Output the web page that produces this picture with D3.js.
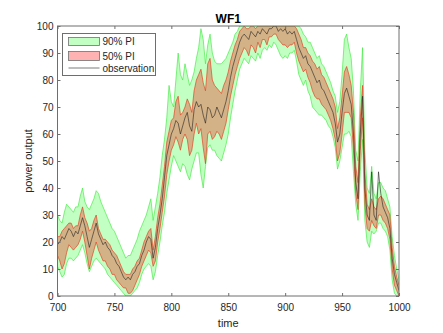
<!DOCTYPE html>
<html>
<head>
  <meta charset="UTF-8">
  <style>
    body { margin: 0; background: #fff; }
    svg { display: block; font-family: "Liberation Sans", Arial, sans-serif; }
  </style>
</head>
<body>
  <svg></svg>
<script src="https://d3js.org/d3.v7.min.js"></script>
<script>
let width = 443,
    height = 333;

// sampled every 2 time steps, 700..1000
let time = d3.range(700, 1001, 2);

let observation = [
  19,20,22,21,23,25,24,22,24,23,
  26,29,26,22,18,21,24,27,23,21,
  19,20,18,17,15,14,12,11,9,7,
  6,7,6,8,9,11,12,15,17,20,
  22,21,14,18,25,30,36,44,52,56,
  60,62,65,64,60,63,66,68,63,61,
  69,72,70,71,67,64,70,69,66,67,
  70,68,66,69,72,76,81,85,88,91,
  94,96,97,96,95,98,97,96,98,97,
  99,98,97,99,99,100,100,98,99,98,
  99,97,98,97,98,95,92,90,88,89,
  86,85,83,81,79,80,77,76,74,72,
  70,68,64,57,60,68,75,77,74,71,
  60,42,36,60,74,40,30,28,46,30,
  28,46,38,33,31,29,25,14,8,5,
  2];

let lower50 = [
  15,13,10,12,16,19,18,17,18,19,
  21,24,20,15,10,14,17,20,17,15,
  13,13,11,10,8,8,6,5,4,3,
  3,1,1,2,4,6,8,11,13,15,
  17,16,11,13,20,25,31,37,45,50,
  54,56,59,57,54,58,60,58,52,54,
  60,64,60,62,55,49,60,61,58,59,
  61,60,58,61,64,69,74,78,82,85,
  88,90,92,91,89,93,92,90,94,92,
  95,95,93,96,96,97,97,95,94,93,
  93,92,93,93,94,90,87,85,83,84,
  81,79,76,74,73,73,71,70,69,67,
  65,62,58,50,53,60,68,68,68,66,
  54,38,32,54,66,34,25,24,28,26,
  25,30,30,28,27,25,21,10,4,2,
  0];

let upper50 = [
  22,22,24,25,26,27,27,25,26,26,
  30,33,29,27,24,25,28,30,25,23,
  21,21,20,19,17,16,15,13,11,9,
  8,8,8,10,11,13,14,17,20,22,
  24,25,17,22,29,34,41,48,57,61,
  65,66,72,74,67,68,70,73,71,68,
  76,80,82,84,79,76,86,88,80,78,
  77,76,75,78,80,83,87,90,93,95,
  98,99,100,99,99,100,100,99,100,100,
  100,100,100,100,100,100,100,100,100,100,
  100,100,100,100,100,99,97,95,92,92,
  90,89,87,86,84,85,82,81,79,77,
  75,73,70,62,66,74,83,85,82,78,
  68,48,42,66,78,46,34,32,36,33,
  32,36,37,36,34,32,30,18,11,7,
  4];

let lower90 = [
  11,9,7,8,12,14,14,13,14,15,
  17,19,16,12,9,11,13,14,13,12,
  11,10,8,7,6,5,4,3,2,1,
  0,0,0,1,2,3,5,8,10,11,
  12,11,6,9,15,20,26,31,38,43,
  48,52,50,48,46,49,48,45,43,47,
  50,53,53,45,40,48,55,56,54,54,
  52,51,50,53,56,60,66,71,76,80,
  84,86,88,87,86,89,88,87,90,88,
  91,92,91,93,92,94,93,91,89,88,
  89,88,90,90,91,87,82,80,78,80,
  76,74,70,69,68,67,67,66,65,63,
  62,59,55,47,50,55,60,60,61,59,
  46,34,28,46,58,28,20,18,24,23,
  24,27,27,25,24,22,17,6,1,0,
  0];

let upper90 = [
  30,28,27,31,34,33,32,31,33,33,
  37,40,35,33,32,34,36,39,38,35,
  33,31,29,27,25,24,22,20,18,16,
  14,15,15,17,19,21,24,26,28,30,
  33,36,28,33,38,44,52,58,66,78,
  72,70,80,90,82,80,86,82,78,80,
  83,88,92,99,95,86,93,97,90,87,
  86,86,86,87,88,90,92,94,97,98,
  100,100,100,100,100,100,100,100,100,100,
  100,100,100,100,100,100,100,100,100,100,
  100,100,100,100,100,100,100,99,97,96,
  94,94,92,90,88,89,86,85,83,81,
  79,76,74,68,72,82,95,97,92,88,
  76,54,50,76,92,54,40,38,48,38,
  36,42,42,40,39,36,33,22,15,10,
  6];

let xTicks = [700, 750, 800, 850, 900, 950, 1000];
let yTicks = [0, 10, 20, 30, 40, 50, 60, 70, 80, 90, 100];

let data = time.map((t, i) => ({
  t: t,
  obs: observation[i],
  lo50: lower50[i], hi50: upper50[i],
  lo90: lower90[i], hi90: upper90[i]
}));

let svg = d3.select("svg")
  .attr("width", width)
  .attr("height", height);

let plotLeft = 57.5, plotRight = 399, plotTop = 26, plotBottom = 296;

let x = d3.scaleLinear().domain([700, 1000]).range([plotLeft, plotRight]);
let y = d3.scaleLinear().domain([0, 100]).range([plotBottom, plotTop]);

svg.append("rect")
  .attr("width", width).attr("height", height).attr("fill", "#fff");

svg.append("clipPath").attr("id", "plotclip")
  .append("rect")
  .attr("x", plotLeft).attr("y", plotTop)
  .attr("width", plotRight - plotLeft).attr("height", plotBottom - plotTop);

let plot = svg.append("g").attr("clip-path", "url(#plotclip)");

let area90 = d3.area().x(d => x(d.t)).y0(d => y(d.lo90)).y1(d => y(d.hi90));
let area50 = d3.area().x(d => x(d.t)).y0(d => y(d.lo50)).y1(d => y(d.hi50));

plot.append("path").datum(data)
  .attr("d", area90)
  .attr("fill", "rgb(0,255,0)").attr("fill-opacity", 0.24);

plot.append("path").datum(data)
  .attr("d", area50)
  .attr("fill", "rgb(255,0,0)").attr("fill-opacity", 0.3);

// band edges
[["lo90", "#40ea40"], ["hi90", "#40ea40"], ["lo50", "#e43a20"], ["hi50", "#e43a20"]].forEach(e => {
  plot.append("path").datum(data)
    .attr("fill", "none")
    .attr("stroke", e[1])
    .attr("stroke-width", 0.65)
    .attr("d", d3.line().x(d => x(d.t)).y(d => y(d[e[0]])));
});

plot.append("path").datum(data)
  .attr("fill", "none")
  .attr("stroke", "#222")
  .attr("stroke-width", 0.6)
  .attr("d", d3.line().x(d => x(d.t)).y(d => y(d.obs)));

// axes, matlab style: inward ticks on all four sides
let axisColor = "#6e6e6e", textColor = "#262626";

function styleAxis(g, showText) {
  g.select(".domain").remove();
  g.selectAll(".tick line").attr("stroke", axisColor);
  g.selectAll(".tick text")
    .attr("fill", textColor)
    .style("font-size", "10px")
    .style("display", showText ? null : "none");
}

svg.append("g").attr("transform", `translate(0,${plotBottom})`)
  .call(d3.axisBottom(x).tickValues(xTicks).tickFormat(d3.format("d"))
    .tickSizeInner(-3).tickSizeOuter(0).tickPadding(8))
  .call(g => styleAxis(g, true));

svg.append("g").attr("transform", `translate(0,${plotTop})`)
  .call(d3.axisTop(x).tickValues(xTicks).tickSizeInner(-3).tickSizeOuter(0))
  .call(g => styleAxis(g, false));

svg.append("g").attr("transform", `translate(${plotLeft},0)`)
  .call(d3.axisLeft(y).tickValues(yTicks).tickSizeInner(-3).tickSizeOuter(0).tickPadding(4))
  .call(g => styleAxis(g, true));

svg.append("g").attr("transform", `translate(${plotRight},0)`)
  .call(d3.axisRight(y).tickValues(yTicks).tickSizeInner(-3).tickSizeOuter(0))
  .call(g => styleAxis(g, false));

svg.append("rect")
  .attr("x", plotLeft).attr("y", plotTop)
  .attr("width", plotRight - plotLeft).attr("height", plotBottom - plotTop)
  .attr("fill", "none").attr("stroke", axisColor).attr("stroke-width", 1);

// title and labels
svg.append("text")
  .attr("x", (plotLeft + plotRight) / 2).attr("y", 22.5)
  .attr("text-anchor", "middle")
  .style("font-size", "12px").style("font-weight", "bold")
  .attr("fill", "#000")
  .text("WF1");

svg.append("text")
  .attr("x", (plotLeft + plotRight) / 2).attr("y", 327)
  .attr("text-anchor", "middle")
  .style("font-size", "11px")
  .attr("fill", textColor)
  .text("time");

svg.append("text")
  .attr("transform", `translate(32,${(plotTop + plotBottom) / 2}) rotate(-90)`)
  .attr("text-anchor", "middle")
  .style("font-size", "11px")
  .attr("fill", textColor)
  .text("power output");

// legend
let legend = svg.append("g");
legend.append("rect")
  .attr("x", 62.5).attr("y", 33.5).attr("width", 93).attr("height", 42)
  .attr("fill", "#fff").attr("stroke", axisColor).attr("stroke-width", 1);

legend.append("rect")
  .attr("x", 68.5).attr("y", 37.5).attr("width", 31).attr("height", 8)
  .attr("fill", "rgb(0,255,0)").attr("fill-opacity", 0.24)
  .attr("stroke", "#707070").attr("stroke-width", 0.8);

legend.append("rect")
  .attr("x", 68.5).attr("y", 51.5).attr("width", 31).attr("height", 9)
  .attr("fill", "rgb(255,0,0)").attr("fill-opacity", 0.3)
  .attr("stroke", "#707070").attr("stroke-width", 0.8);

legend.append("line")
  .attr("x1", 68.5).attr("x2", 99.5).attr("y1", 68).attr("y2", 68)
  .attr("stroke", "#222").attr("stroke-width", 0.6);

[["90% PI", 45], ["50% PI", 59.5], ["observation", 71.5]].forEach(d => {
  legend.append("text")
    .attr("x", 102.5).attr("y", d[1])
    .style("font-size", "10px")
    .attr("fill", textColor)
    .text(d[0]);
});
</script>
</body>
</html>
